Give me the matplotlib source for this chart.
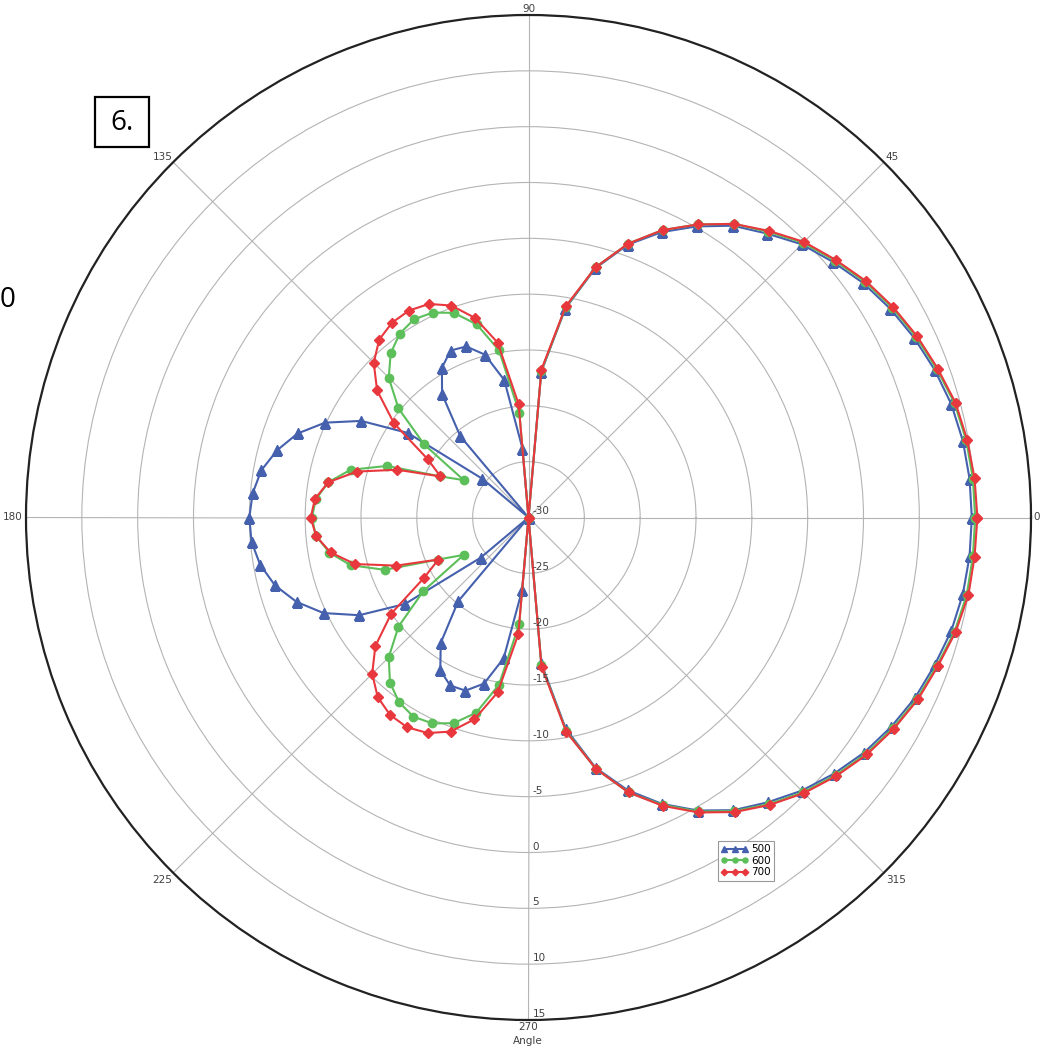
#polar radiation pattern for three frequencies (500, 600, 700)
#values, in dB, one every 5 degrees

import numpy as np
import matplotlib.pyplot as plt
import matplotlib.patches as patches
from matplotlib.transforms import offset_copy

angles = list(range(0, 360, 5))

series_500 = [9.7, 9.65, 9.5, 9.2, 8.7, 8.1, 7.4, 6.6, 5.6, 4.6, 3.2, 1.9,
              0.1, -1.8, -4.0, -6.9, -11.0, -16.9, -30, -23.8, -17.5, -14.9, -13.7, -13.5,
              -14.5, -16.5, -20.5, -30, -24.6, -16.8, -12.7, -9.9, -8.0, -6.7, -5.7, -5.2,
              -5.0, -5.1, -5.6, -6.5, -7.9, -9.75, -12.5, -16.5, -24.4, -30, -20.2, -16.3,
              -14.2, -13.4, -13.5, -14.6, -17.2, -23.5, -30, -16.9, -10.8, -6.8, -4.0, -1.7,
              0.3, 2.0, 3.3, 4.6, 5.7, 6.7, 7.5, 8.2, 8.7, 9.2, 9.5, 9.65]

series_600 = [10.0, 9.95, 9.8, 9.5, 8.9, 8.3, 7.6, 6.8, 5.8, 4.8, 3.4, 2.1,
              0.3, -1.6, -3.9, -6.8, -10.9, -16.8, -30, -20.6, -14.8, -12.1, -10.5, -9.75,
              -9.5, -9.9, -10.8, -12.3, -14.8, -18.6, -23.3, -21.3, -16.5, -13.5, -11.8, -10.9,
              -10.6, -10.9, -11.9, -13.5, -16.3, -21.1, -23.3, -18.5, -14.8, -12.3, -10.7, -9.8,
              -9.4, -9.65, -10.4, -11.9, -14.8, -20.4, -30, -16.7, -10.6, -6.7, -3.8, -1.6,
              0.4, 2.1, 3.5, 4.8, 5.9, 6.9, 7.7, 8.4, 8.9, 9.5, 9.85, 9.95]

series_700 = [10.2, 10.1, 9.9, 9.6, 9.0, 8.4, 7.7, 6.9, 5.9, 4.9, 3.5, 2.1,
              0.3, -1.6, -3.9, -6.8, -10.8, -16.7, -30, -19.8, -14.1, -11.5, -9.8, -8.9,
              -8.6, -8.7, -9.2, -10.4, -12.3, -15.3, -19.6, -21.3, -17.5, -14.1, -11.8, -10.8,
              -10.5, -10.9, -12.0, -13.9, -17.4, -21.1, -19.2, -15.0, -12.1, -10.2, -9.0, -8.4,
              -8.3, -8.7, -9.6, -11.3, -14.1, -19.5, -30, -16.6, -10.5, -6.7, -3.8, -1.5,
              0.5, 2.2, 3.6, 4.9, 6.0, 7.0, 7.8, 8.5, 9.0, 9.6, 10.0, 10.1]

r_ticks = [-30, -25, -20, -15, -10, -5, 0, 5, 10, 15]
theta_ticks = [0, 45, 90, 135, 180, 225, 270, 315]

fig = plt.figure(figsize=(10.48, 10.48), dpi=100)
ax = fig.add_axes([26 / 1048, 28 / 1048, 1005 / 1048, 1005 / 1048], projection='polar')

#close the loops by repeating the first point
th = np.deg2rad(angles + [360])

ax.plot(th, series_500 + series_500[:1], color='#4560ad', lw=1.5, marker='^', ms=6.5, label='500', zorder=3)
ax.plot(th, series_600 + series_600[:1], color='#5cbf5a', lw=1.5, marker='o', ms=6, label='600', zorder=4)
ax.plot(th, series_700 + series_700[:1], color='#e8383d', lw=1.5, marker='D', ms=5.5, label='700', zorder=5)

ax.set_ylim(-30, 15)
ax.set_yticks(r_ticks)
ax.set_yticklabels([])
ax.set_thetagrids(theta_ticks, ['' for t in theta_ticks])
ax.grid(True, color='#b4b4b4', lw=0.8)
ax.spines['polar'].set_color('#222222')
ax.spines['polar'].set_linewidth(1.6)

#angle labels hugging the outer ring
align = {0: ('left', 'center', 2, 0), 45: ('left', 'bottom', 2, 0), 90: ('center', 'bottom', 0, 1),
         135: ('right', 'bottom', 0, 0), 180: ('right', 'center', -3, 0), 225: ('right', 'top', -1, -2),
         270: ('center', 'top', 0, -2), 315: ('left', 'top', 2, -2)}
for t in theta_ticks:
    ha, va, dx, dy = align[t]
    tr = offset_copy(ax.transData, fig=fig, x=dx, y=dy, units='dots')
    ax.text(np.deg2rad(t), 15, str(t), transform=tr, ha=ha, va=va, fontsize=7.5,
            color='#404040', clip_on=False)

#radial labels down the 270 spoke
trans = offset_copy(ax.transData, fig=fig, x=4, y=1, units='dots')
for r in r_ticks:
    ax.text(np.deg2rad(270), r, str(r), transform=trans, ha='left', va='bottom',
            fontsize=7.5, color='#404040', zorder=6)

fig.text(528 / 1048, 1 - 1041 / 1048, 'Angle', ha='center', va='center', fontsize=7.5, color='#404040')

leg = fig.legend(loc='upper left', bbox_to_anchor=(713 / 1048, 1 - 836 / 1048), fontsize=7.5,
                 numpoints=3, handlelength=2.6, markerscale=0.6, borderpad=0.3, labelspacing=0.15,
                 handletextpad=0.3, fancybox=False, framealpha=1)
leg.get_frame().set_edgecolor('#999999')
leg.get_frame().set_linewidth(0.8)

#the "6." box and the stray 0 on the left
fig.patches.append(patches.Rectangle((95 / 1048, 1 - 147 / 1048), 54 / 1048, 50 / 1048,
                                     transform=fig.transFigure, fill=False, ec='black', lw=1.6))
fig.text(122 / 1048, 1 - 123 / 1048, '6.', ha='center', va='center', fontsize=20, family='Open Sans')
fig.text(0 / 1048, 1 - 300 / 1048, '0', ha='left', va='center', fontsize=20, family='Open Sans')

plt.savefig('out.png', dpi=100)
